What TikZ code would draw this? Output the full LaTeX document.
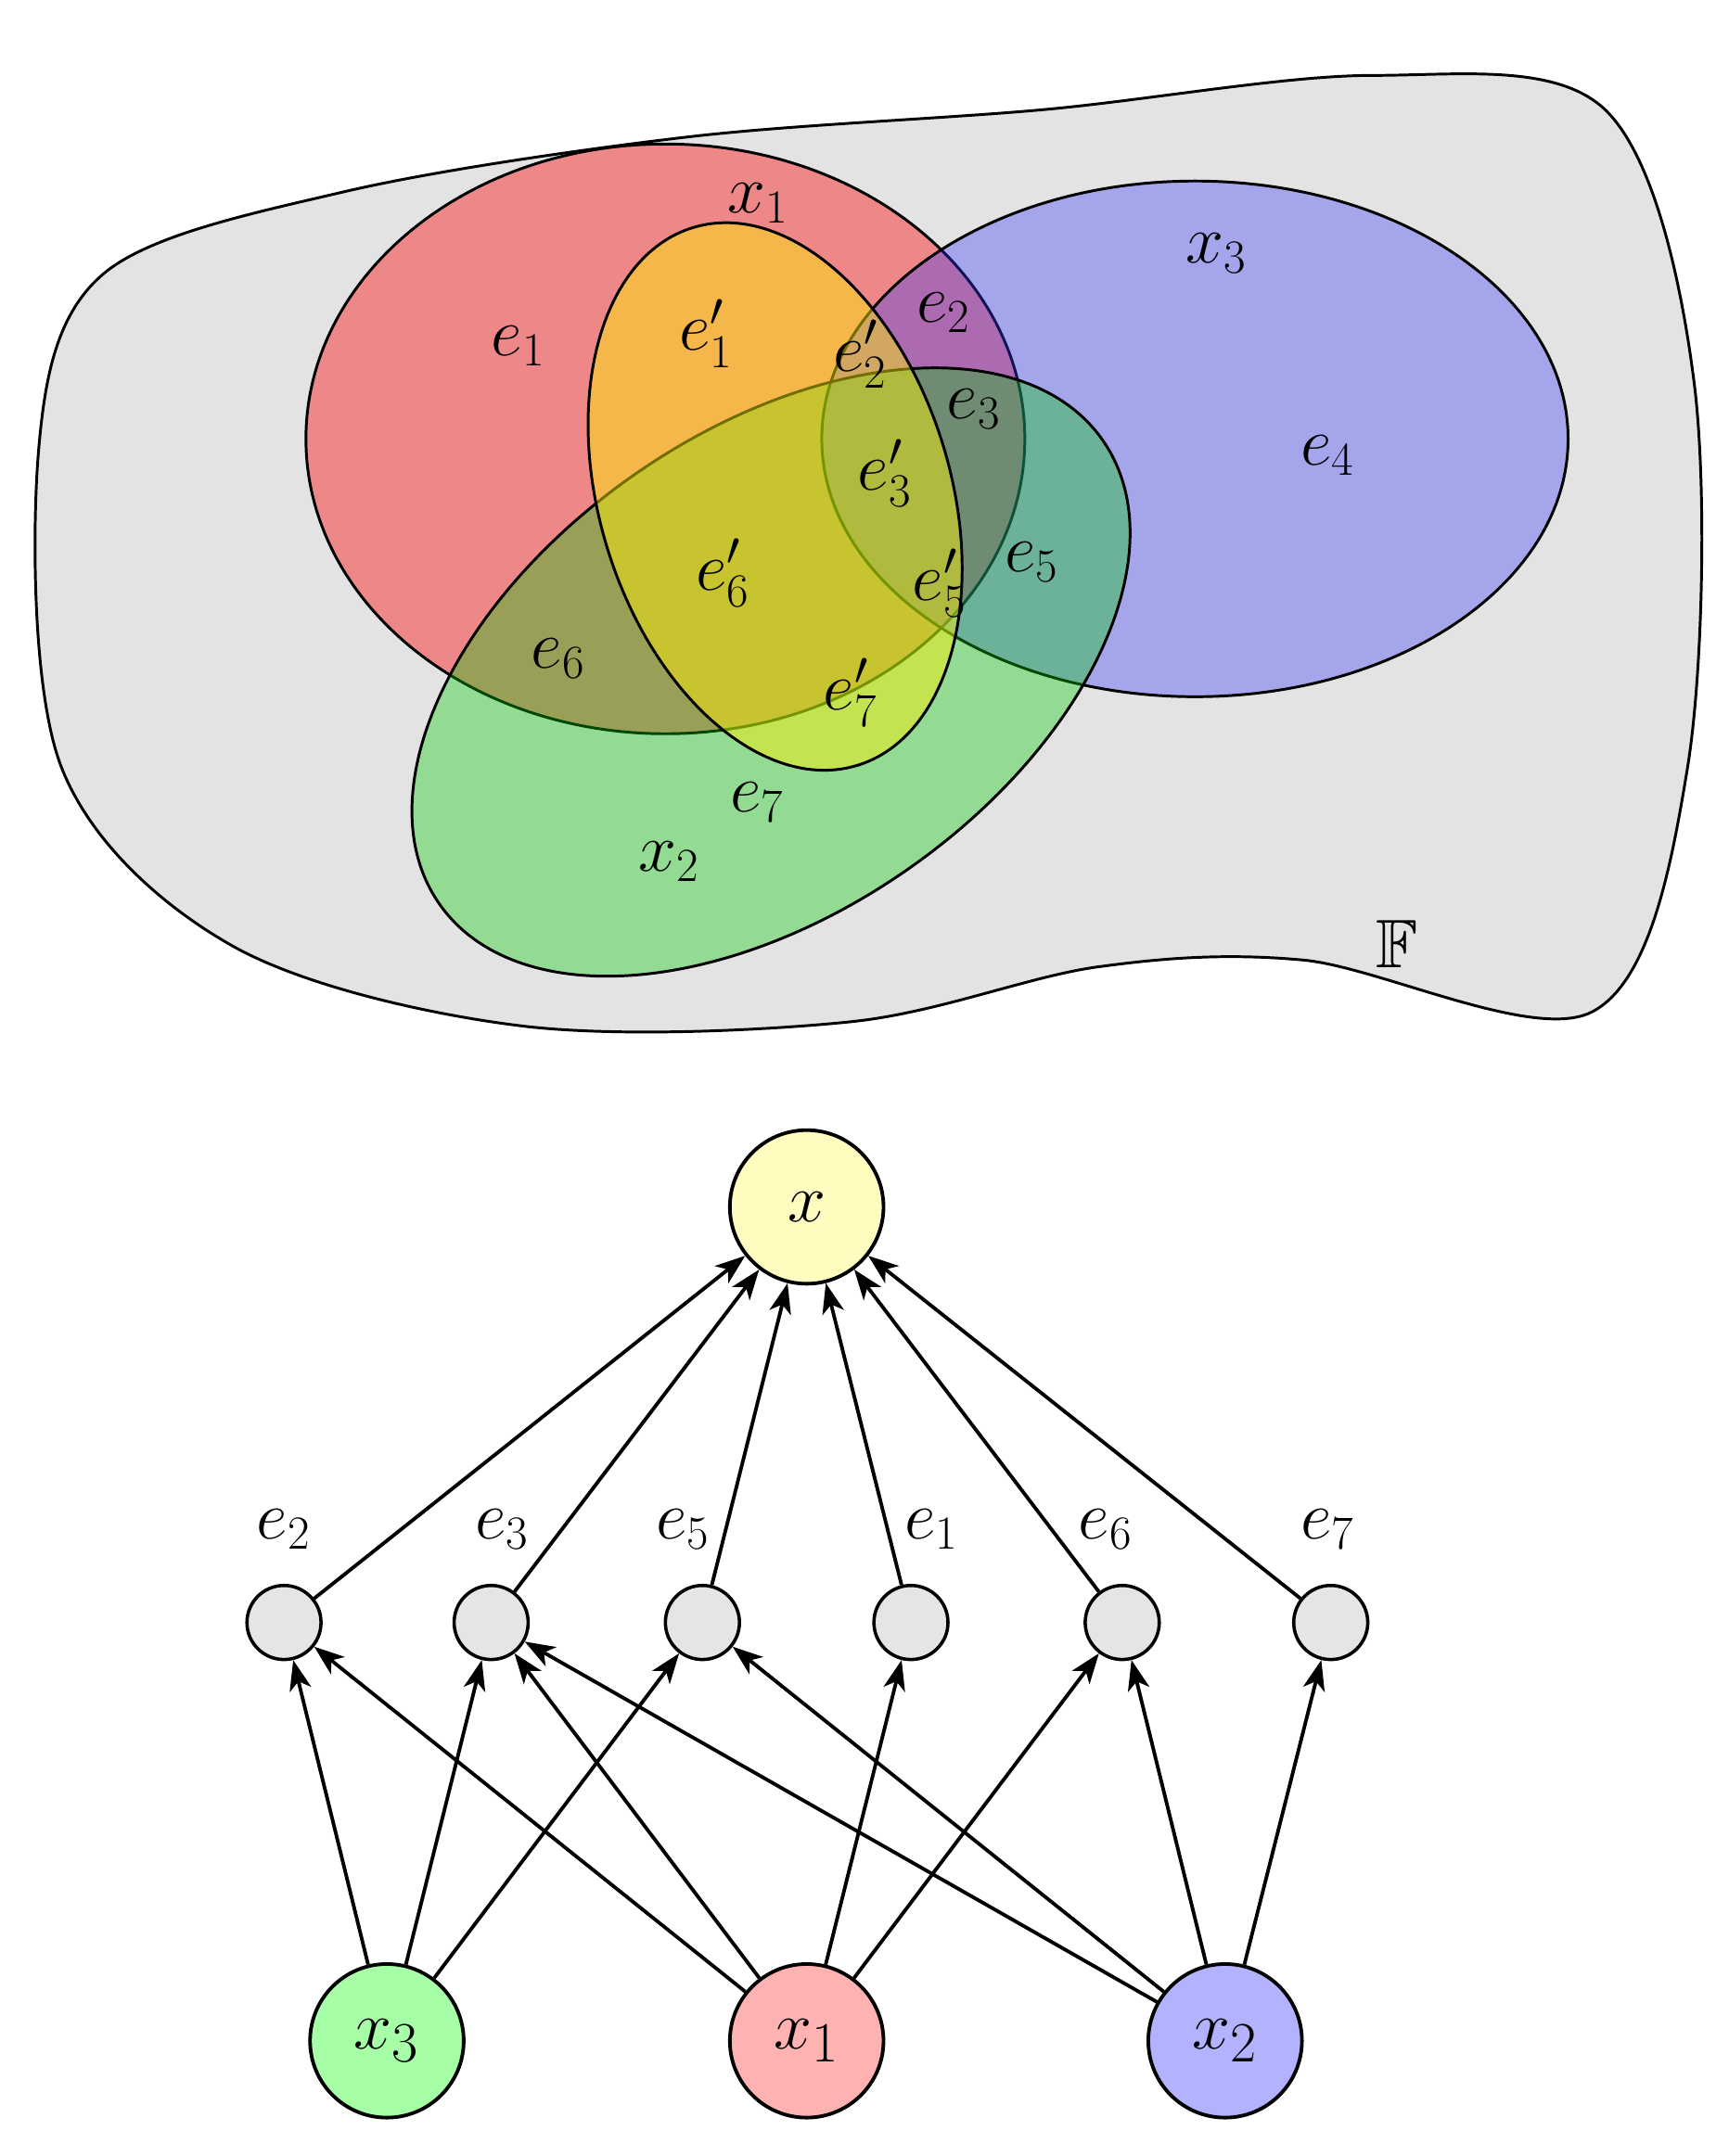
\documentclass[tikz,border=0pt]{standalone}
\usepackage{amssymb}
\usetikzlibrary{arrows.meta}
\begin{document}
\begin{tikzpicture}[x=0.5pt,y=-0.5pt,
  lab/.style={font=\fontsize{25}{29}\selectfont},
  big/.style={circle,draw,line width=1.3pt,minimum size=56pt,inner sep=0pt,font=\fontsize{28}{32}\selectfont},
  small/.style={circle,draw,line width=1.2pt,fill=gray!20,minimum size=27pt,inner sep=0pt},
  arr/.style={-{Stealth[length=11pt,width=8pt,inset=3pt]},line width=1.3pt},
  venn/.style={draw,line width=1pt,fill opacity=0.4}]
\useasboundingbox (0,0) rectangle (1260,1572);
% outer set
\draw[line width=1pt,fill=gray!22] plot[smooth cycle,tension=0.55] coordinates {
 (28,330) (75,200) (250,140) (500,100) (760,80) (1000,55) (1170,80) (1235,280)
 (1230,560) (1160,738) (950,700) (800,705) (620,745) (380,748) (170,690) (45,560)};
\draw[venn,fill=red] (485,320) ellipse [x radius=262,y radius=215];
\draw[venn,fill=blue!80,fill opacity=0.35] (871,320) ellipse [x radius=272,y radius=188];
\draw[venn,fill=green!80!black,fill opacity=0.35,rotate around={35:(562,490)}] (562,490) ellipse [x radius=295,y radius=175];
\draw[venn,fill=yellow,fill opacity=0.45,rotate around={17:(565,362)}] (565,362) ellipse [x radius=128,y radius=205];
\node[lab] at (553,148) {$x_1$};
\node[lab] at (887,185) {$x_3$};
\node[lab] at (378,252) {$e_1$};
\node[lab] at (515,243) {$e'_1$};
\node[lab] at (688,228) {$e_2$};
\node[lab] at (627,258) {$e'_2$};
\node[lab] at (710,298) {$e_3$};
\node[lab] at (645,345) {$e'_3$};
\node[lab] at (968,332) {$e_4$};
\node[lab] at (752,410) {$e_5$};
\node[lab] at (685,425) {$e'_5$};
\node[lab] at (527,418) {$e'_6$};
\node[lab] at (407,480) {$e_6$};
\node[lab] at (620,505) {$e'_7$};
\node[lab] at (552,585) {$e_7$};
\node[lab] at (488,628) {$x_2$};
\node[lab] at (1018,688) {$\mathbb{F}$};
% graph
\node[big,fill=yellow!25] (x) at (588,880) {$x$};
\node[big,fill=green!35] (x3) at (282,1488) {$x_3$};
\node[big,fill=red!30] (x1) at (588,1488) {$x_1$};
\node[big,fill=blue!30] (x2) at (893,1488) {$x_2$};
\foreach \k/\px/\lx in {2/207/207,3/358/366,5/512/498,1/664/679,6/818/806,7/970/968}{
  \node[small] (e\k) at (\px,1183) {};
  \node[lab] at (\lx,1115) {$e_{\k}$};
}
\foreach \n in {e2,e3,e5,e1,e6,e7} \draw[arr] (\n) -- (x);
\foreach \n in {e2,e3,e5} \draw[arr] (x3) -- (\n);
\foreach \n in {e2,e3,e1,e6} \draw[arr] (x1) -- (\n);
\foreach \n in {e3,e5,e6,e7} \draw[arr] (x2) -- (\n);
\end{tikzpicture}
\end{document}
